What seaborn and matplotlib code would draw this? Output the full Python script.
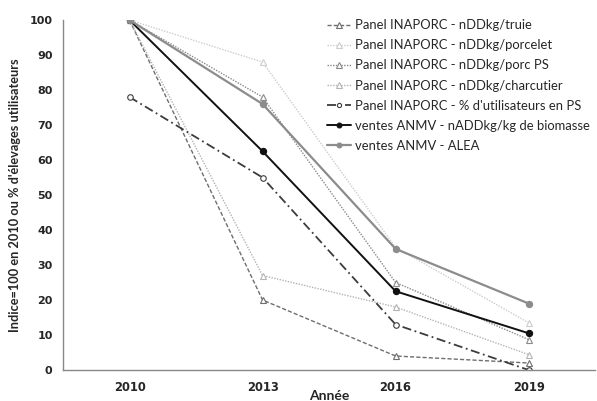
import matplotlib
matplotlib.use("Agg")
import matplotlib.pyplot as plt
import seaborn as sns
import pandas as pd
from matplotlib.lines import Line2D

years = ["2010", "2013", "2016", "2019"]
truie = [100, 20, 4, 2]
porcelet = [100, 88, 35, 13.5]
porc_ps = [100, 78, 25, 8.7]
charcutier = [100, 27, 18, 4.4]
utilisateurs = [78, 55, 13, 0]
nadd = [100, 62.5, 22.5, 10.5]
alea = [100, 76, 34.6, 19]

labels = [
    "Panel INAPORC - nDDkg/truie",
    "Panel INAPORC - nDDkg/porcelet",
    "Panel INAPORC - nDDkg/porc PS",
    "Panel INAPORC - nDDkg/charcutier",
    "Panel INAPORC - % d'utilisateurs en PS",
    "ventes ANMV - nADDkg/kg de biomasse",
    "ventes ANMV - ALEA",
]
series = [truie, porcelet, porc_ps, charcutier, utilisateurs, nadd, alea]
styles = [
    dict(color="#6e6e6e", ls=(0, (3, 1.5)), lw=1.0, marker="^", mfc="white", ms=5),
    dict(color="#cdcdcd", ls=(0, (1, 1)), lw=1.0, marker="^", mfc="white", ms=5),
    dict(color="#8a8a8a", ls=(0, (1, 1)), lw=1.0, marker="^", mfc="white", ms=5),
    dict(color="#b4b4b4", ls=(0, (1, 1)), lw=1.0, marker="^", mfc="white", ms=5),
    dict(color="#3c3c3c", ls=(0, (5, 2, 1, 2)), lw=1.3, marker="o", mfc="white", ms=4),
    dict(color="#111111", ls="-", lw=1.4, marker="o", mfc="#111111", ms=4.5),
    dict(color="#8c8c8c", ls="-", lw=1.6, marker="o", mfc="#8c8c8c", ms=4.5),
]

sns.set_style("white")
plt.rcParams["font.family"] = ["DejaVu Sans"]

fig = plt.figure(figsize=(5.97, 4.01), dpi=100)
ax = fig.add_axes([0.1055, 0.0773, 0.8915, 0.8727])

xpos = list(range(len(years)))
handles = []
for lab, vals, st in zip(labels, series, styles):
    df = pd.DataFrame({"x": xpos, "y": vals})
    sns.lineplot(data=df, x="x", y="y", ax=ax, color=st["color"], linestyle=st["ls"],
                 linewidth=st["lw"], marker=st["marker"], markerfacecolor=st["mfc"],
                 markeredgecolor=st["color"], markersize=st["ms"], markeredgewidth=0.8,
                 legend=False)
    handles.append(Line2D([0], [0], color=st["color"], linestyle=st["ls"], linewidth=st["lw"],
                          marker=st["marker"], markerfacecolor=st["mfc"],
                          markeredgecolor=st["color"], markersize=st["ms"] - 1,
                          markeredgewidth=0.8))

ax.set_xlim(-0.5, 3.5)
ax.set_ylim(0, 100)
ax.set_xticks(xpos)
ax.set_xticklabels(years, fontsize=8.3, fontweight="bold")
ax.set_xticks([-0.5, 0.5, 1.5, 2.5, 3.5], minor=True)
ax.tick_params(axis="x", which="major", length=0, pad=8)
ax.tick_params(axis="x", which="minor", length=4, direction="out", color="#888888")
ax.set_yticks(range(0, 101, 10))
ax.tick_params(axis="y", length=4, direction="out", color="#888888", labelsize=8)
for t in ax.get_yticklabels():
    t.set_fontweight("bold")
for s in ["top", "right"]:
    ax.spines[s].set_visible(False)
for s in ["left", "bottom"]:
    ax.spines[s].set_color("#888888")
    ax.spines[s].set_linewidth(1.0)

ax.set_xlabel("Année", fontsize=10, fontweight="bold", family=["Lato", "DejaVu Sans"], labelpad=-3)
ax.set_ylabel("Indice=100 en 2010 ou % d'élevages utilisateurs", fontsize=9.2, fontweight="bold",
              family=["Lato", "DejaVu Sans"], labelpad=6)

leg = ax.legend(handles, labels, loc="upper left", bbox_to_anchor=(0.548, 0.952),
                bbox_transform=fig.transFigure, frameon=False,
                prop={"family": ["Lato", "DejaVu Sans"], "size": 9.4},
                handlelength=1.85, handletextpad=0.25, labelspacing=0.62, borderaxespad=0,
                borderpad=0)

fig.savefig("out.png", dpi=100)
